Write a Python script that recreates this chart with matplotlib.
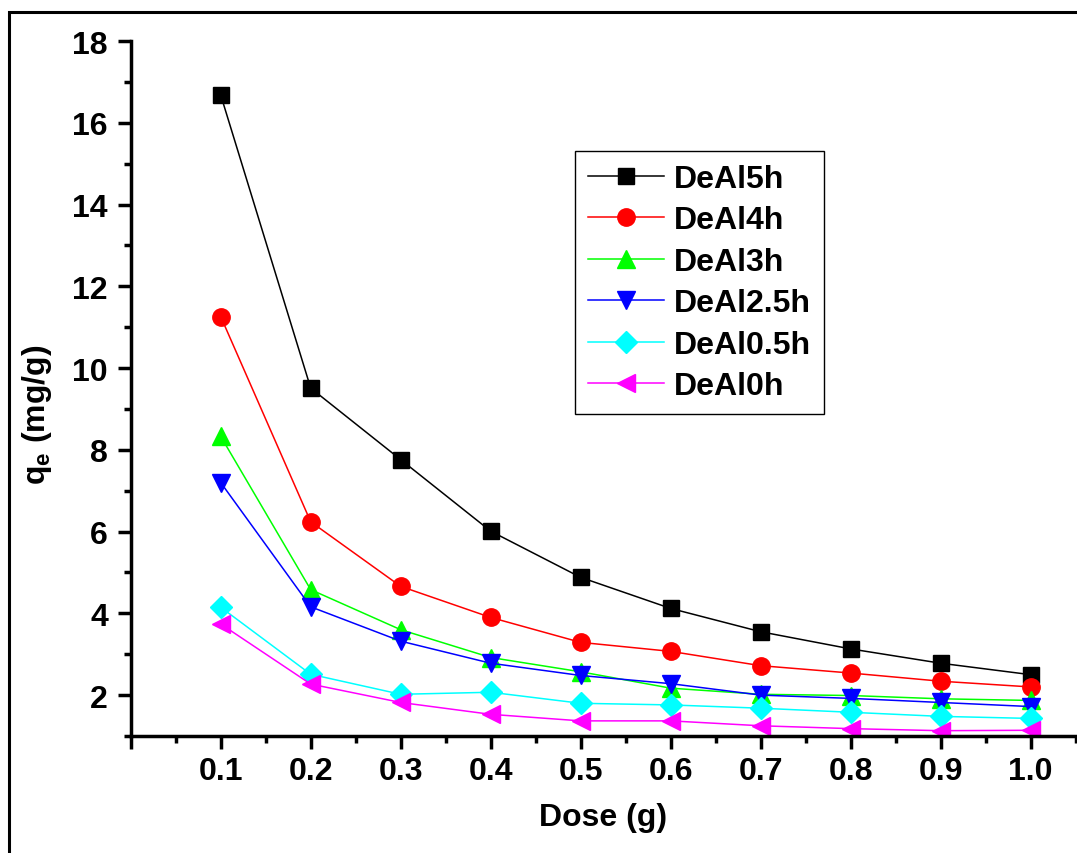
import matplotlib
matplotlib.use("Agg")
import matplotlib.pyplot as plt
from matplotlib.patches import Rectangle
from matplotlib.ticker import MultipleLocator

plt.rcParams['font.family'] = ['Liberation Sans', 'DejaVu Sans']
plt.rcParams['font.weight'] = 'bold'
plt.rcParams['mathtext.fontset'] = 'custom'
plt.rcParams['mathtext.rm'] = 'Liberation Sans:bold'
plt.rcParams['mathtext.bf'] = 'Liberation Sans:bold'
plt.rcParams['mathtext.it'] = 'Liberation Sans:bold'

# data
dose = [0.1, 0.2, 0.3, 0.4, 0.5, 0.6, 0.7, 0.8, 0.9, 1.0]
deal5h = [16.68, 9.51, 7.76, 6.01, 4.88, 4.12, 3.55, 3.13, 2.78, 2.50]
deal4h = [11.26, 6.24, 4.66, 3.90, 3.29, 3.07, 2.72, 2.54, 2.34, 2.20]
deal3h = [8.33, 4.58, 3.60, 2.92, 2.57, 2.17, 2.02, 1.99, 1.91, 1.87]
deal25h = [7.20, 4.16, 3.32, 2.78, 2.48, 2.28, 2.00, 1.92, 1.82, 1.72]
deal05h = [4.15, 2.51, 2.02, 2.07, 1.80, 1.76, 1.68, 1.58, 1.48, 1.43]
deal0h = [3.74, 2.27, 1.82, 1.53, 1.37, 1.37, 1.25, 1.18, 1.13, 1.14]

series = [
    ('DeAl5h', deal5h, 'black', 's'),
    ('DeAl4h', deal4h, '#ff0000', 'o'),
    ('DeAl3h', deal3h, '#00ff00', '^'),
    ('DeAl2.5h', deal25h, '#0000ff', 'v'),
    ('DeAl0.5h', deal05h, '#00ffff', 'D'),
    ('DeAl0h', deal0h, '#ff00ff', '<'),
]
sizes = {'s': 11, 'o': 12.5, '^': 12.5, 'v': 12.5, 'D': 11, '<': 12.5}

W, H = 1077, 854
FS = 23
fig = plt.figure(figsize=(W / 100, H / 100), dpi=100)

# outer frame, cropped on the right and bottom like the original
fig.patches.append(Rectangle((9 / W, -0.2), 1.3, 1.2 - 13 / H,
                             transform=fig.transFigure, fill=False,
                             edgecolor='black', lw=2.2))

ax = fig.add_axes([130.7 / W, 117 / H, 990 / W, 695 / H])

for name, vals, col, mk in series:
    ax.plot(dose, vals, color=col, lw=1.1, marker=mk, markersize=sizes[mk],
            markerfacecolor=col, markeredgecolor=col, label=name)

ax.set_xlim(0, 1.1)
ax.set_ylim(1, 18)
ax.set_xticks([0, 0.1, 0.2, 0.3, 0.4, 0.5, 0.6, 0.7, 0.8, 0.9, 1.0])
ax.set_xticklabels(['', '0.1', '0.2', '0.3', '0.4', '0.5', '0.6', '0.7',
                    '0.8', '0.9', '1.0'])
ax.xaxis.set_minor_locator(MultipleLocator(0.05))
ax.yaxis.set_minor_locator(MultipleLocator(1))
ax.set_yticks([2, 4, 6, 8, 10, 12, 14, 16, 18])

for s in ['top', 'right']:
    ax.spines[s].set_visible(False)
for s in ['left', 'bottom']:
    ax.spines[s].set_linewidth(2.5)

ax.tick_params(which='major', direction='out', length=9.4, width=2.5,
               labelsize=FS)
ax.tick_params(which='minor', direction='out', length=5.3, width=2.5)
ax.tick_params(axis='y', which='major', pad=7)
ax.tick_params(axis='x', which='major', pad=5)
for lab in ax.get_xticklabels() + ax.get_yticklabels():
    lab.set_fontweight('bold')

fig.text(603 / W, 1 - 818 / H, 'Dose (g)', ha='center', va='center',
         fontsize=FS, fontweight='bold')
fig.text(37 / W, 1 - 415 / H, r'q$_{\mathbf{e}}$ (mg/g)', ha='center',
         va='center', rotation=90, fontsize=FS, fontweight='bold')

leg = ax.legend(loc='upper left', bbox_to_anchor=(575 / W, 1 - 152 / H),
                bbox_transform=fig.transFigure, frameon=True, fancybox=False,
                edgecolor='black', framealpha=1, prop={'size': FS, 'weight': 'bold'},
                handlelength=2.4, handletextpad=0.3, labelspacing=0.36,
                borderpad=0.4, borderaxespad=0)
leg.get_frame().set_linewidth(1.0)

fig.savefig('out.png', dpi=100)
